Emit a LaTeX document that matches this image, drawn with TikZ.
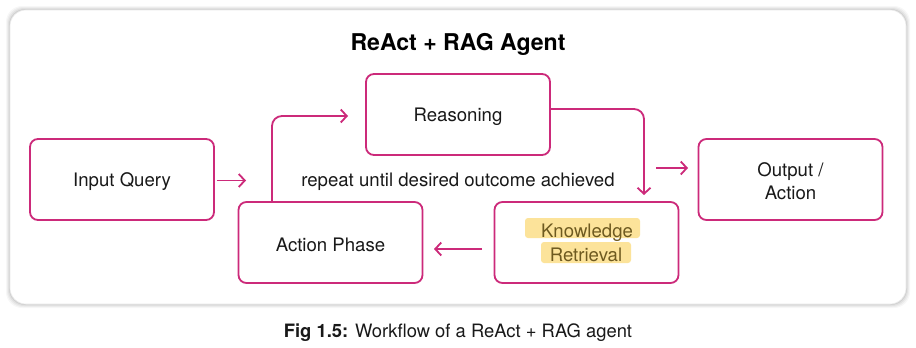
\documentclass[tikz,border=0pt]{standalone}
\usepackage{fontspec}
\setmainfont{TeX Gyre Heros}
\usetikzlibrary{arrows.meta}
\definecolor{pinkc}{HTML}{CC2A7A}
\definecolor{hilite}{HTML}{FCE39A}
\definecolor{hitext}{HTML}{6E5A20}
\tikzset{
  stepbox/.style={draw=pinkc, line width=1.8pt, rounded corners=8pt, minimum width=184pt, minimum height=81pt},
  boxtext/.style={align=center, font=\fontsize{18.6}{23}\selectfont, text=black!90, inner sep=0pt},
  arr/.style={draw=pinkc, line width=1.8pt, -{Straight Barb[length=6pt,width=13pt,line width=1.8pt]}},
  hl/.style={fill=hilite, rounded corners=3pt, draw=none}
}
\begin{document}
\begin{tikzpicture}[x=1pt,y=-1pt]
\useasboundingbox (0,0) rectangle (916,348);
% panel with soft shadow
\foreach \d/\o in {4/0.03,3/0.04,2/0.05,1/0.07}{
  \fill[black,opacity=\o,rounded corners=16pt] (10-\d,10-\d) rectangle (906+\d,304+\d);
}
\fill[white,rounded corners=16pt] (10,10) rectangle (906,304);
\draw[black!8,line width=0.6pt,rounded corners=16pt] (10,10) rectangle (906,304);

\node[font=\fontsize{23.1}{26}\selectfont\bfseries] (title) at (458,44) {ReAct + RAG Agent};

\node[stepbox] (inp) at (122,179.5) {};
\node[stepbox] (reas) at (458,114.5) {};
\node[stepbox] (out) at (790.5,179.5) {};
\node[stepbox] (act) at (330.5,242.5) {};
\node[stepbox] (know) at (586.5,242.5) {};
\node[boxtext] (inpt) at ([yshift=-2pt]inp.center) {Input Query};
\node[boxtext] (reast) at ([yshift=-2pt]reas.center) {Reasoning};
\node[boxtext] (outt) at ([yshift=-1.5pt]out.center) {Output /\\Action};
\node[boxtext] (actt) at ([yshift=-2pt]act.center) {Action Phase};
\fill[hl] (525,218) rectangle (640,238);
\fill[hl] (541,242) rectangle (631,263);
\node[boxtext, text=hitext] (kt) at (587,233) {Knowledge};
\node[boxtext, text=hitext] (rt) at (586,255) {Retrieval};

\node[boxtext] (rep) at (458,182) {repeat until desired outcome achieved};

% connectors
\coordinate (a1e) at (246,180.5);
\draw[arr] (inp.east |- a1e) ++(2,0) -- (a1e);
\coordinate (a2e) at (348,116);
\draw[arr,rounded corners=10pt] (act.north -| 272,0) |- (a2e);
\coordinate (a3e) at (644,195);
\draw[arr,rounded corners=10pt] (reas.east |- 0,109) -| (a3e);
\coordinate (a4s) at (656,168);
\coordinate (a4e) at (688,168);
\draw[arr] (a4s) -- (a4e);
\coordinate (a5s) at (482,249);
\coordinate (a5e) at (434,249);
\draw[arr] (a5s) -- (a5e);

\node[font=\fontsize{18.4}{21}\selectfont, text=black!90] (cap) at (458,333) {\textbf{Fig 1.5:} Workflow of a ReAct + RAG agent};
\end{tikzpicture}
\end{document}
